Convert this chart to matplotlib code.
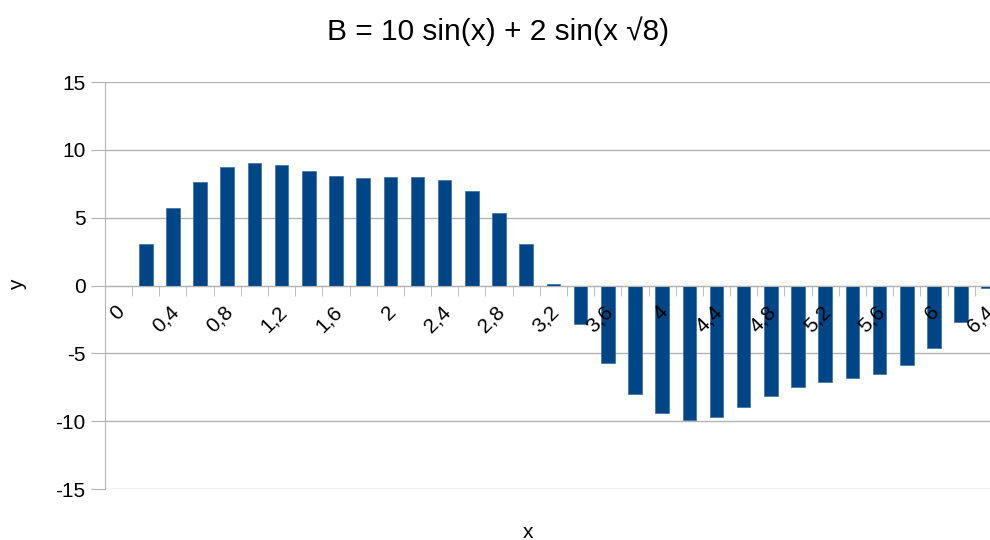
import matplotlib.pyplot as plt
import matplotlib.transforms as mtransforms
import numpy as np
from matplotlib.ticker import FixedLocator

# x categories 0 .. 6.4 step 0.2 and the bar heights
x_labels = ["0", "0,2", "0,4", "0,6", "0,8", "1", "1,2", "1,4", "1,6", "1,8",
            "2", "2,2", "2,4", "2,6", "2,8", "3", "3,2", "3,4", "3,6", "3,8",
            "4", "4,2", "4,4", "4,6", "4,8", "5", "5,2", "5,4", "5,6", "5,8",
            "6", "6,2", "6,4"]
b_values = [0.0, 3.10, 5.75, 7.64, 8.75, 9.07, 8.87, 8.45, 8.08, 7.91,
            7.99, 8.01, 7.76, 6.95, 5.38, 3.07, 0.15, -2.84, -5.74, -7.97,
            -9.40, -9.91, -9.67, -8.98, -8.17, -7.51, -7.09, -6.79, -6.50, -5.86,
            -4.63, -2.69, -0.15]
y_ticks = [-15, -10, -5, 0, 5, 10, 15]

plt.rcParams['font.family'] = ['Liberation Sans', 'DejaVu Sans']
plt.rcParams['axes.unicode_minus'] = False

fig = plt.figure(figsize=(9.9, 5.4), dpi=100)
ax = fig.add_axes([0.106, 0.0944, 0.906, 0.7536])

idx = np.arange(len(b_values))
ax.bar(idx, b_values, width=0.5, color="#004586", edgecolor="#3a6ea5", linewidth=0.5, zorder=2)

# grid drawn by hand so the axis (and its tick labels) can sit above the bars
for yt in y_ticks:
    ax.axhline(yt, color="#b3b3b3", linewidth=1, zorder=0.5)

ax.set_xlim(-0.5, len(b_values) - 0.5)
ax.set_ylim(-15, 15)
ax.set_yticks(y_ticks)
ax.set_axisbelow(False)

for s in ["top", "right"]:
    ax.spines[s].set_visible(False)
ax.spines["left"].set_color("#b3b3b3")
ax.spines["bottom"].set_color("#b3b3b3")
ax.spines["bottom"].set_position(("data", 0))

# labels every other category, tick marks on category borders
major = idx[::2]
ax.set_xticks(major)
ax.set_xticklabels([x_labels[i] for i in major], rotation=45, ha="right",
                   rotation_mode="anchor")
ax.xaxis.set_minor_locator(FixedLocator(np.arange(-0.5, len(b_values), 1.0)))
ax.tick_params(axis="x", which="major", length=0, pad=10, labelsize=15)
ax.tick_params(axis="x", which="minor", length=7, color="#b3b3b3", direction="out")
ax.tick_params(axis="y", length=10, color="#b3b3b3", labelsize=15, pad=4)

# nudge the rotated labels a little left and down
shift = mtransforms.ScaledTranslation(-4 / 100, -3 / 100, fig.dpi_scale_trans)
for lab in ax.get_xticklabels():
    lab.set_transform(lab.get_transform() + shift)

fig.text(0.503, 1 - 31 / 540, "B = 10 sin(x) + 2 sin(x \u221a8)", ha="center", va="center", fontsize=21.5)
fig.text(528 / 990, 1 - 532 / 540, "x", ha="center", va="center", fontsize=15)
fig.text(18 / 990, 1 - 285 / 540, "y", ha="center", va="center", rotation=90, fontsize=15)

fig.savefig("out.png", dpi=100)
